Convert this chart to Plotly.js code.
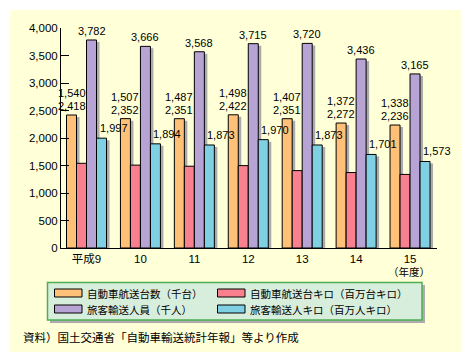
<!DOCTYPE html>
<html>
<head>
<meta charset="utf-8">
<script src="https://cdn.plot.ly/plotly-3.0.1.min.js"></script>
<style>
html,body{margin:0;padding:0;background:#ffffff;}
#chart{width:471px;height:361px;}
</style>
</head>
<body>
<div id="chart"></div>
<script>
// ---- data ----
var years = ['平成9', '10', '11', '12', '13', '14', '15'];
var carUnits = [2418, 2352, 2351, 2422, 2351, 2272, 2236];        // 自動車航送台数（千台）
var carKm = [1540, 1507, 1487, 1498, 1407, 1372, 1338];           // 自動車航送台キロ（百万台キロ）
var passengers = [3782, 3666, 3568, 3715, 3720, 3436, 3165];      // 旅客輸送人員（千人）
var passengerKm = [1997, 1894, 1873, 1970, 1873, 1701, 1573];     // 旅客輸送人キロ（百万人キロ）
var seriesNames = ['自動車航送台数（千台）', '自動車航送台キロ（百万台キロ）', '旅客輸送人員（千人）', '旅客輸送人キロ（百万人キロ）'];
var sourceText = '資料）国土交通省「自動車輸送統計年報」等より作成';
var unitText = '（年度）';

// ---- styles ----
var FONT = '"Noto Sans CJK JP", "DejaVu Sans", sans-serif';
var NUMFONT = '"Liberation Sans", "Noto Sans CJK JP", sans-serif';
var colors = ['#FFC078', '#F8808F', '#B8A4D4', '#80D0E4'];
var W = 471, H = 361;
var M = {l: 61, r: 34, t: 28, b: 113};
var plotW = W - M.l - M.r, plotH = H - M.t - M.b;
function px(x) { return (x - M.l) / plotW; }
function py(y) { return (H - M.b - y) / plotH; }

var xs = years.map(function (_, i) { return i; });
var xRange = [-0.473, 6.5];
var unit = plotW / (xRange[1] - xRange[0]);   // px per category
var bw = 10 / unit;                            // bar width in category units
var series = [carUnits, carKm, passengers, passengerKm];
var offsets = [-2 * bw, -bw, 0, bw];
var shadowDx = 3 / unit;
var shadowDy = 2 * 4000 / plotH;

var traces = [];
// shadows
series.forEach(function (s, k) {
  traces.push({
    type: 'bar', x: xs, y: s.map(function (v) { return v - shadowDy; }),
    offset: offsets[k] + shadowDx, width: bw,
    marker: {color: '#ABABAB', line: {width: 0}},
    hoverinfo: 'skip', showlegend: false
  });
});
// bars
series.forEach(function (s, k) {
  traces.push({
    type: 'bar', x: xs, y: s, name: seriesNames[k],
    offset: offsets[k], width: bw,
    marker: {color: colors[k], line: {color: '#000000', width: 1}},
    showlegend: false
  });
});

function fmt(v) { return v.toLocaleString('en-US'); }
var ann = [];
var lblFont = {family: NUMFONT, size: 11, color: '#000'};
xs.forEach(function (x, i) {
  ann.push({x: x + offsets[0] + bw / 2, y: carUnits[i], xref: 'x', yref: 'y', text: fmt(carUnits[i]),
    showarrow: false, yanchor: 'bottom', xanchor: 'center', yshift: 2, borderpad: 0, font: lblFont});
  ann.push({x: x + offsets[0] + bw / 2, y: carUnits[i], xref: 'x', yref: 'y', text: fmt(carKm[i]),
    showarrow: false, yanchor: 'bottom', xanchor: 'center', yshift: 15, borderpad: 0, font: lblFont});
  ann.push({x: x + offsets[2] + bw / 2, y: passengers[i], xref: 'x', yref: 'y', text: fmt(passengers[i]),
    showarrow: false, yanchor: 'bottom', xanchor: 'center', yshift: 2, borderpad: 0, font: lblFont});
  ann.push({x: x + offsets[3] + bw / 2, y: passengerKm[i], xref: 'x', yref: 'y', text: fmt(passengerKm[i]),
    showarrow: false, yanchor: 'bottom', xanchor: 'center', xshift: 12, yshift: 3, borderpad: 0, font: lblFont});
});
ann.push({x: px(409), y: py(271), xref: 'paper', yref: 'paper', text: unitText, showarrow: false,
  xanchor: 'center', yanchor: 'middle', font: {family: FONT, size: 10.5, color: '#000'}});
ann.push({x: px(21), y: py(337), xref: 'paper', yref: 'paper', text: sourceText, showarrow: false,
  xanchor: 'left', yanchor: 'middle', font: {family: FONT, size: 11.5, color: '#000'}});

var shapes = [];
// page background panel
shapes.push({type: 'rect', xref: 'paper', yref: 'paper', x0: px(10), x1: px(461), y0: py(352), y1: py(10),
  fillcolor: '#FFFFD8', line: {width: 0}, layer: 'below'});
// legend box shadow + box
shapes.push({type: 'rect', xref: 'paper', yref: 'paper', x0: px(50), x1: px(425), y0: py(323), y1: py(285),
  fillcolor: '#ACACAC', line: {width: 0}, layer: 'above'});
shapes.push({type: 'rect', xref: 'paper', yref: 'paper', x0: px(47.5), x1: px(422), y0: py(320), y1: py(282.5),
  fillcolor: '#D8EEDC', line: {color: '#4CAF50', width: 1.5}, layer: 'above'});
var legPos = [[54, 293], [217, 293], [54, 309], [217, 309]];
legPos.forEach(function (p, k) {
  shapes.push({type: 'rect', xref: 'paper', yref: 'paper', x0: px(p[0] + 0.5), x1: px(p[0] + 28), y0: py(p[1] + 4), y1: py(p[1] - 4),
    fillcolor: colors[k], line: {color: '#000', width: 1}, layer: 'above'});
  ann.push({x: px(p[0] + 31), y: py(p[1]), xref: 'paper', yref: 'paper', text: seriesNames[k], showarrow: false,
    xanchor: 'left', yanchor: 'middle', font: {family: FONT, size: 10.5, color: '#000'}});
});

var layout = {
  width: W, height: H, margin: M,
  paper_bgcolor: '#ffffff', plot_bgcolor: 'rgba(0,0,0,0)',
  barmode: 'overlay', showlegend: false,
  font: {family: FONT, size: 11, color: '#000'},
  xaxis: {range: xRange, tickvals: xs, ticktext: years, showline: true, linecolor: '#000', linewidth: 1,
    ticks: '', showgrid: false, zeroline: false, tickfont: {family: NUMFONT, size: 11.5, color: '#000'}, fixedrange: true},
  yaxis: {range: [0, 4000], dtick: 500, tickformat: ',d', showline: true, linecolor: '#000', linewidth: 1,
    ticks: 'inside', ticklen: 8, tickcolor: '#000', tickwidth: 1, showgrid: false, zeroline: false,
    tickfont: {family: NUMFONT, size: 11.5, color: '#000'}, fixedrange: true},
  shapes: shapes, annotations: ann
};
Plotly.newPlot('chart', traces, layout, {staticPlot: true});
</script>
</body>
</html>
